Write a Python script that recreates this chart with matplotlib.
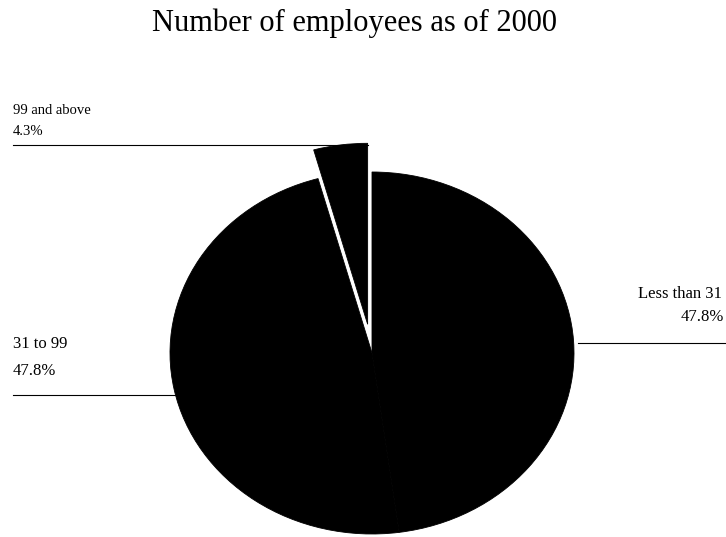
import matplotlib
matplotlib.use("Agg")
import matplotlib.pyplot as plt
from matplotlib.lines import Line2D

# data
labels = ["Less than 31", "31 to 99", "99 and above"]
shares = [47.8, 47.8, 4.3]
pct_text = ["47.8%", "47.8%", "4.3%"]
explode = [0.0, 0.0, 0.16]

W, H = 726, 537
fig = plt.figure(figsize=(W / 100, H / 100), dpi=100)
plt.rcParams['font.family'] = ['Liberation Serif', 'DejaVu Serif']

ax = fig.add_axes([0, 0, 1, 1])
ax.pie(shares, explode=explode, colors=["black", "black", "black"],
       startangle=90, counterclock=False,
       wedgeprops=dict(linewidth=0.6, edgecolor="black"))

# pie centre at (372, 353) px, radii 202 x 181 px (scan is a bit squashed)
cx, cy, rx, ry = 372, 353, 202, 181
ax.set_aspect('auto')
ax.set_xlim(-cx / rx, (W - cx) / rx)
ax.set_ylim(-(H - cy) / ry, cy / ry)
ax.axis('off')


def px(x, y):
    return x / W, 1 - y / H


def label(x, y, s, ha='left', size=12):
    fig.text(*px(x, y), s, ha=ha, va='baseline', fontsize=size)


def leader(x0, x1, y):
    a, b = px(x0, y)
    c, _ = px(x1, y)
    fig.add_artist(Line2D([a, c], [b, b], color='black', lw=0.8))


fig.text(*px(354, 31), "Number of employees as of 2000",
         ha='center', va='baseline', fontsize=22)

label(13, 114, labels[2], size=10.5)
label(13, 135, pct_text[2], size=10.5)
leader(13, 368, 145)

label(13, 348, labels[1])
label(13, 375, pct_text[1])
leader(13, 176, 395)

label(722, 298, labels[0], ha='right')
label(724, 321, pct_text[0], ha='right')
leader(578, 726, 343)

fig.savefig("out.png", dpi=100)
